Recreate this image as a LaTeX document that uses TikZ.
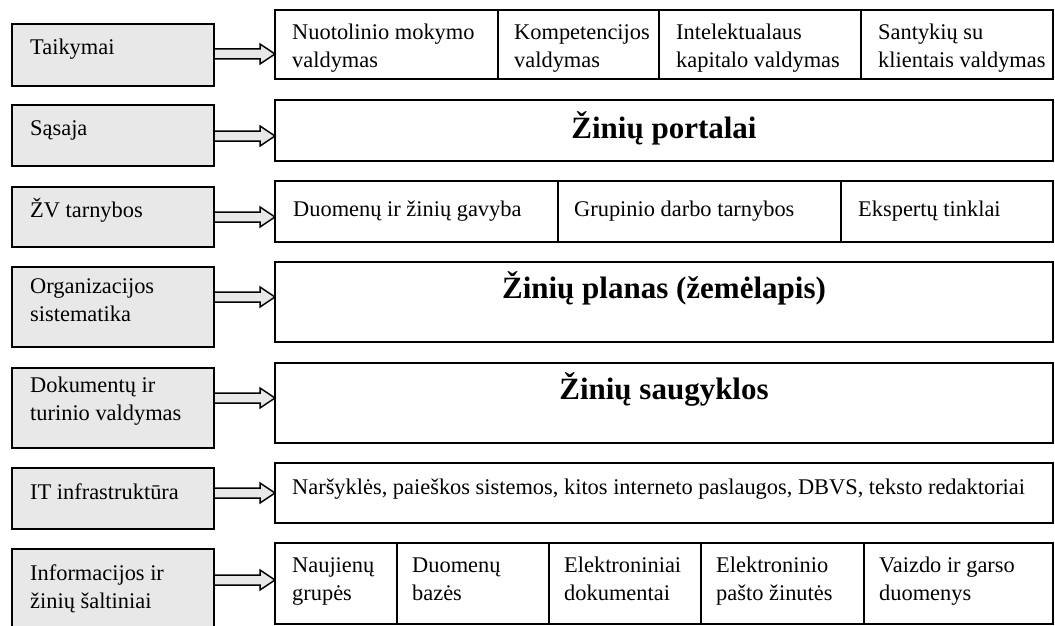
\documentclass[tikz,border=0pt]{standalone}
\usepackage{fontspec}
\setmainfont{Liberation Serif}
\usepackage{tikz}
\usetikzlibrary{calc}
\usetikzlibrary{shadows}
\usetikzlibrary{positioning}
\colorlet{boxgray}{black!9}
% hollow block arrow from a left box to a right box, #3 = drop from the top
\newcommand{\FatArrow}[3]{%
  \path ($(#1.north east)+(0,#3)$) coordinate (#1s) (#2.west |- #1s) coordinate (#1e);
  \draw[FatArrows] ($(#1s)+(0,-5)$) -- ($(#1e)+(-15,-5)$) -- ($(#1e)+(-15,-10)$) -- (#1e)
    -- ($(#1e)+(-15,10)$) -- ($(#1e)+(-15,5)$) -- ($(#1s)+(0,5)$) -- cycle;}

\begin{document}
\begin{tikzpicture}[
x=1pt,y=-1pt,
LeftBoxes/.style={draw=black,line width=1.6pt,fill=boxgray,anchor=north west,inner sep=0pt,outer sep=0pt,minimum width=202pt,
  drop shadow={shadow xshift=1.3pt,shadow yshift=-1.3pt,fill=black,opacity=1}},
RightBoxes/.style={draw=black,line width=1.6pt,fill=white,anchor=north west,inner sep=0pt,outer sep=0pt},
BoxText/.style={anchor=north west,inner sep=0pt,align=left,font=\fontsize{22.4}{28}\selectfont},
BigText/.style={anchor=base,inner sep=0pt,font=\fontsize{31}{36}\selectfont\bfseries},
FatArrows/.style={draw=black,line width=1.5pt,fill=boxgray,line join=miter}
]
\useasboundingbox (0,0) rectangle (1055,626);

% left column
\node[LeftBoxes,minimum height=62pt] (l1) at (12,24) {};
\node[LeftBoxes,minimum height=61pt] (l2) at (12,105) {};
\node[LeftBoxes,minimum height=60pt] (l3) at (12,187) {};
\node[LeftBoxes,minimum height=80pt] (l4) at (12,267) {};
\node[LeftBoxes,minimum height=80pt] (l5) at (12,368) {};
\node[LeftBoxes,minimum height=61pt] (l6) at (12,468) {};
\node[LeftBoxes,minimum height=80pt] (l7) at (12,549) {};

\node[BoxText] (l1t) at ($(l1.north west)+(18,10.4)$) {\strut Taikymai};
\node[BoxText] (l2t) at ($(l2.north west)+(18,10.4)$) {\strut Sąsaja};
\node[BoxText] (l3t) at ($(l3.north west)+(18,10.4)$) {\strut ŽV tarnybos};
\node[BoxText] (l4t) at ($(l4.north west)+(18,6.4)$) {\strut Organizacijos\\sistematika};
\node[BoxText] (l5t) at ($(l5.north west)+(18,4.4)$) {\strut Dokumentų ir\\turinio valdymas};
\node[BoxText] (l6t) at ($(l6.north west)+(18,11.4)$) {\strut IT infrastruktūra};
\node[BoxText] (l7t) at ($(l7.north west)+(18,11.4)$) {\strut Informacijos ir\\žinių šaltiniai};

% right column
\node[RightBoxes,minimum width=223pt,minimum height=69pt] (r1a) at (275,10) {};
\node[RightBoxes,minimum width=161pt,minimum height=69pt] (r1b) at (r1a.north east) {};
\node[RightBoxes,minimum width=202pt,minimum height=69pt] (r1c) at (r1b.north east) {};
\node[RightBoxes,minimum width=192pt,minimum height=69pt] (r1d) at (r1c.north east) {};

\node[RightBoxes,minimum width=778pt,minimum height=61pt] (r2) at (275,100) {};

\node[RightBoxes,minimum width=283pt,minimum height=61pt] (r3a) at (275,181) {};
\node[RightBoxes,minimum width=283pt,minimum height=61pt] (r3b) at (r3a.north east) {};
\node[RightBoxes,minimum width=212pt,minimum height=61pt] (r3c) at (r3b.north east) {};

\node[RightBoxes,minimum width=778pt,minimum height=80pt] (r4) at (275,262) {};
\node[RightBoxes,minimum width=778pt,minimum height=80pt] (r5) at (275,363) {};
\node[RightBoxes,minimum width=778pt,minimum height=60pt] (r6) at (275,463) {};

\node[RightBoxes,minimum width=122pt,minimum height=81pt] (r7a) at (275,543) {};
\node[RightBoxes,minimum width=152pt,minimum height=81pt] (r7b) at (r7a.north east) {};
\node[RightBoxes,minimum width=152pt,minimum height=81pt] (r7c) at (r7b.north east) {};
\node[RightBoxes,minimum width=163pt,minimum height=81pt] (r7d) at (r7c.north east) {};
\node[RightBoxes,minimum width=189pt,minimum height=81pt] (r7e) at (r7d.north east) {};

\node[BoxText] (r1at) at ($(r1a.north west)+(17,9.4)$) {\strut Nuotolinio mokymo\\valdymas};
\node[BoxText] (r1bt) at ($(r1b.north west)+(16,9.4)$) {\strut Kompetencijos\\valdymas};
\node[BoxText] (r1ct) at ($(r1c.north west)+(17,9.4)$) {\strut Intelektualaus\\kapitalo valdymas};
\node[BoxText] (r1dt) at ($(r1d.north west)+(17,9.4)$) {\strut Santykių su\\klientais valdymas};

\node[BigText] (r2t) at ($(r2.north)+(0,38)$) {Žinių portalai};

\node[BoxText] (r3at) at ($(r3a.north west)+(18,15.4)$) {\strut Duomenų ir žinių gavyba};
\node[BoxText] (r3bt) at ($(r3b.north west)+(16,15.4)$) {\strut Grupinio darbo tarnybos};
\node[BoxText] (r3ct) at ($(r3c.north west)+(17,15.4)$) {\strut Ekspertų tinklai};

\node[BigText] (r4t) at ($(r4.north)+(0,36)$) {Žinių planas (žemėlapis)};
\node[BigText] (r5t) at ($(r5.north)+(0,36)$) {Žinių saugyklos};

\node[BoxText] (r6t) at ($(r6.north west)+(17,11.4)$) {\strut Naršyklės, paieškos sistemos, kitos interneto paslaugos, DBVS, teksto redaktoriai};

\node[BoxText] (r7at) at ($(r7a.north west)+(17,9.4)$) {\strut Naujienų\\grupės};
\node[BoxText] (r7bt) at ($(r7b.north west)+(15,9.4)$) {\strut Duomenų\\bazės};
\node[BoxText] (r7ct) at ($(r7c.north west)+(15,9.4)$) {\strut Elektroniniai\\dokumentai};
\node[BoxText] (r7dt) at ($(r7d.north west)+(15,9.4)$) {\strut Elektroninio\\pašto žinutės};
\node[BoxText] (r7et) at ($(r7e.north west)+(15,9.4)$) {\strut Vaizdo ir garso\\duomenys};

% arrows
\FatArrow{l1}{r1a}{30}
\FatArrow{l2}{r2}{31}
\FatArrow{l3}{r3a}{30}
\FatArrow{l4}{r4}{30}
\FatArrow{l5}{r5}{30}
\FatArrow{l6}{r6}{25}
\FatArrow{l7}{r7a}{31}

\end{tikzpicture}
\end{document}
